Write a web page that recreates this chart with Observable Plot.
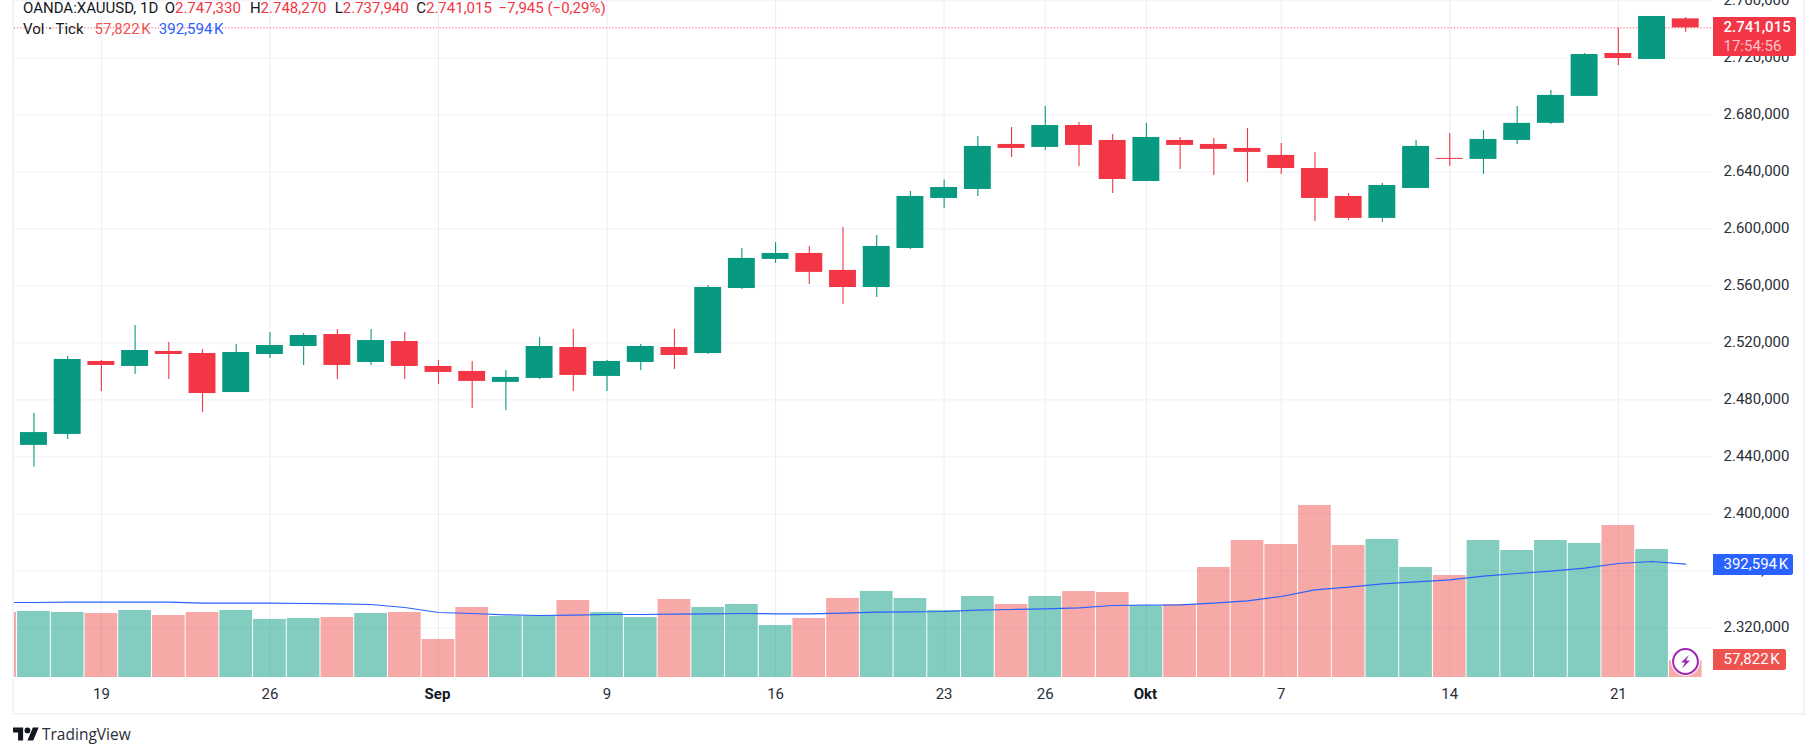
<!DOCTYPE html>
<html><head><meta charset="utf-8">
<script src="https://cdn.jsdelivr.net/npm/d3@7"></script>
<script src="https://cdn.jsdelivr.net/npm/@observablehq/plot@0.6"></script>
<style>
html,body{margin:0;padding:0;background:#fff;overflow:hidden}
#stage{position:relative;width:1815px;height:756px;font-family:Roboto,sans-serif;color:#131722;overflow:hidden}
#stage > div.layer svg{position:absolute;left:0;top:0;background:transparent}
.layer{position:absolute;left:0;top:0;width:1815px;height:756px}
#frame{position:absolute;left:12px;top:-2px;width:1789px;height:713px;border:2px solid #f0f3fa}
.abs{position:absolute;white-space:pre;line-height:18px;font-size:15px}
.tag{position:absolute;left:1713px;border-radius:0 2px 2px 0;color:#fff;font-size:15px;box-sizing:border-box;padding-left:10.5px;white-space:pre;word-spacing:-2px}
.r{color:#f23645}
</style></head>
<body>
<div id="stage">
  <div id="frame"></div>
  <div class="layer" id="priceLayer"></div>
  <div class="layer" id="volumeLayer"></div>
  <div class="abs" style="left:23px;top:-1px"><span>OANDA:XAUUSD, 1D</span><span style="margin-left:6.4px">O</span><span class="r">2.747,330</span><span style="margin-left:9px">H</span><span class="r">2.748,270</span><span style="margin-left:8.2px">L</span><span class="r">2.737,940</span><span style="margin-left:7.5px">C</span><span class="r">2.741,015</span><span class="r" style="margin-left:6.6px">−7,945 (−0,29%)</span></div>
  <div class="abs" style="left:23px;top:20px"><span>Vol · Tick</span><span style="color:#f05350;margin-left:11px;word-spacing:-2px">57,822 K</span><span style="color:#2962ff;margin-left:8px;word-spacing:-2px">392,594 K</span></div>
  <div class="tag" style="top:17px;width:83px;height:39px;background:#f23645;line-height:19px;padding-top:1px;"><div style="font-weight:500">2.741,015</div><div style="color:#fbc2c7">17:54:56</div></div>
  <div class="tag" style="top:554px;width:80px;height:21px;background:#2962ff;line-height:21px">392,594 K</div>
  <div class="tag" style="top:649px;width:73px;height:21px;background:#ef5350;line-height:21px">57,822 K</div>
  <svg style="position:absolute;left:1670px;top:646px" width="31" height="31" viewBox="0 0 31 31">
    <circle cx="15.5" cy="15.5" r="14.5" fill="#fff"/>
    <circle cx="15.5" cy="15.5" r="12.4" fill="#fff" stroke="#9c27b0" stroke-width="2"/>
    <path d="M19 9 L11 16.5 H15 L12 22.5 L20 14.5 H16 Z" fill="#9c27b0"/>
  </svg>
  <svg style="position:absolute;left:12.5px;top:727px" width="26" height="14" viewBox="0 4 36 18">
    <path d="M14 22H7V11H0V4h14v18z" fill="#131722"/><circle cx="20" cy="8" r="4" fill="#131722"/><path d="M28 22h-8l7.5-18h8z" fill="#131722"/>
  </svg>
  <div class="abs" style="left:42px;top:725px;font-family:'Open Sans',sans-serif;font-size:15.5px;color:#2a2e39">TradingView</div>
</div>
<script>
const dates = ["2024-08-14","2024-08-15","2024-08-16","2024-08-19","2024-08-20","2024-08-21","2024-08-22","2024-08-23","2024-08-26","2024-08-27","2024-08-28","2024-08-29","2024-08-30","2024-09-02","2024-09-03","2024-09-04","2024-09-05","2024-09-06","2024-09-09","2024-09-10","2024-09-11","2024-09-12","2024-09-13","2024-09-16","2024-09-17","2024-09-18","2024-09-19","2024-09-20","2024-09-23","2024-09-24","2024-09-25","2024-09-26","2024-09-27","2024-09-30","2024-10-01","2024-10-02","2024-10-03","2024-10-04","2024-10-07","2024-10-08","2024-10-09","2024-10-10","2024-10-11","2024-10-14","2024-10-15","2024-10-16","2024-10-17","2024-10-18","2024-10-21","2024-10-22","2024-10-23"];
const candleDates = dates.slice(1);
const opens  = [2448,2455.7,2506.9,2503.4,2513.9,2512.5,2485.1,2511.8,2517.4,2525.8,2506.2,2520.9,2503.4,2499.9,2492.2,2495,2516.7,2496.4,2506.2,2516.7,2512.5,2558.1,2578.5,2582.7,2570.8,2558.8,2586.2,2621.3,2627.6,2659.2,2657.1,2672.5,2662,2633.2,2662,2659.2,2656.4,2651.5,2642.3,2622.7,2607.3,2628.3,2649.4,2648.7,2662,2674,2692.9,2723,2718.8,2747.33];
const highs  = [2470.4,2510.4,2507.6,2532.2,2520.2,2515.3,2518.8,2527.2,2526.6,2529.3,2529.3,2527.2,2507.6,2506.9,2500.6,2523.7,2529.3,2507.6,2518.8,2529.4,2560.2,2586.2,2590.4,2587.6,2600.9,2595.3,2626.2,2634.3,2664.8,2671.1,2685.8,2674.6,2666.2,2673.9,2664.1,2663.4,2670.4,2659.9,2653.6,2624.8,2631.8,2662,2666.9,2669,2685.9,2697.1,2723,2741,2749,2748.27];
const lows   = [2432.8,2452.1,2485.8,2497.8,2494.3,2471.1,2485.1,2509,2504.1,2494.3,2504.1,2494.3,2490.8,2473.9,2472.5,2494.3,2485.8,2485.8,2500.6,2501.3,2511.8,2557.4,2575.7,2561,2546.9,2551.8,2585.5,2614.3,2622.7,2650.1,2655,2643.7,2624.8,2633.2,2641.6,2637.4,2632.5,2638.1,2605.2,2605.9,2604.5,2628.3,2643.7,2638.1,2659.2,2673.2,2692.9,2714.6,2718.8,2737.94];
const closes = [2457,2508.3,2504.1,2514.6,2511.8,2484.4,2513.2,2518.1,2525.1,2504.1,2521.6,2503.4,2499.2,2492.9,2495.7,2517.4,2497.1,2506.9,2517.4,2511.1,2558.8,2579.2,2582.7,2569.4,2558.8,2587.6,2622.7,2629,2657.8,2656.4,2672.5,2658.5,2634.6,2664.1,2658.5,2655.7,2653.6,2642.3,2621.3,2607.3,2630.4,2657.8,2648.7,2662.7,2674,2693.6,2722.3,2719.5,2749,2741.015];
const volumes = [224.9,228.4,224.9,221.5,231.8,214.5,224.9,231.8,200.7,204.2,207.6,221.5,224.9,131.5,242.2,211.1,211.1,266.4,224.9,207.6,269.9,242.2,252.6,179.9,204.2,273.4,297.6,273.4,231.8,280.3,252.6,280.3,297.6,294.1,245.7,252.6,380.6,474,460.2,595.2,456.7,477.5,380.6,352.9,474,439.4,474,463.7,526,442.9,57.822];
const volumeMA = [259.5,259.5,260.7,260.7,260.7,260.7,257.2,257.2,257.2,256.1,254.9,252.6,242.2,224.9,221.5,216.8,214.5,215.7,218,218,219.1,220.3,221.5,220.3,220.3,222.6,226.1,227.2,228.4,233,235.3,237.6,241.1,249.1,250.3,251.4,257.2,265.3,280.3,303.3,312.6,324.1,331,337.9,350.6,359.9,367.9,378.3,394.5,401.4,392.594];
const firstVolumeRising = false;
const priceTicks = [2760,2720,2680,2640,2600,2560,2520,2480,2440,2400,2360,2320];
const dayTicks = ["2024-08-19","2024-08-26","2024-09-09","2024-09-16","2024-09-23","2024-09-26","2024-10-07","2024-10-14","2024-10-21"];
const dayLabels = ["19","26","9","16","23","26","7","14","21"];
const monthTicks = ["2024-09-02","2024-10-01"];
const monthLabels = ["Sep","Okt"];
const lastPrice = 2741.015;

const UP = "#089981", DOWN = "#f23645", VOL_UP = "#089981", VOL_DOWN = "#ef5350";
const candles = candleDates.map((date,i)=>({date,open:opens[i],high:highs[i],low:lows[i],close:closes[i],up:closes[i]>=opens[i]}));
const vols = dates.map((date,i)=>({date,volume:volumes[i],ma:volumeMA[i],up:i===0?firstVolumeRising:candles[i-1].up}));

const xScale = {type:"band",domain:dates,range:[-17.1,1702.1],padding:0,round:false};
const W=1815,H=756,ML=14,MR=103,MB=79;
const allTicks=[...dayTicks,...monthTicks];
const priceLabel = d=>{const s=d3.format(".3f")(d).replace(".",",");return s.slice(0,1)+"."+s.slice(1)};
const dayLabel = d=>dayLabels[dayTicks.indexOf(d)];
const monthLabel = d=>monthLabels[monthTicks.indexOf(d)];
const fontStyle={fontFamily:"Roboto,sans-serif",background:"transparent",overflow:"hidden"};

const price = Plot.plot({
  width:W,height:H,marginLeft:ML,marginRight:MR,marginTop:0,marginBottom:MB,style:fontStyle,
  x:xScale,
  y:{type:"linear",domain:[2320,2760],range:[627.3,0.3]},
  marks:[
    Plot.ruleY(priceTicks,{stroke:"#f0f3fa",strokeWidth:1.3}),
    Plot.ruleX(allTicks,{stroke:"#ecedf2",strokeWidth:1}),
    Plot.axisY({anchor:"right",ticks:priceTicks,tickSize:0,tickPadding:11,tickFormat:priceLabel,label:null,fontSize:15,color:"#2a2e39",textAnchor:"start",dy:-1}),
    Plot.axisX({ticks:dayTicks,tickSize:0,tickPadding:11,tickFormat:dayLabel,label:null,fontSize:15,color:"#2a2e39"}),
    Plot.axisX({ticks:monthTicks,tickSize:0,tickPadding:11,tickFormat:monthLabel,label:null,fontSize:15,fontWeight:"bold",color:"#131722",dx:-1}),
    Plot.ruleY([lastPrice],{stroke:DOWN,strokeWidth:1,strokeDasharray:"1 2.2"}),
    Plot.ruleX(candles,{x:"date",y1:"low",y2:"high",stroke:d=>d.up?UP:DOWN,strokeWidth:1.1}),
    Plot.barY(candles,{x:"date",y1:"open",y2:"close",fill:d=>d.up?UP:DOWN,insetLeft:3.4,insetRight:3.4})
  ]
});
document.getElementById("priceLayer").appendChild(price);

const volume = Plot.plot({
  width:W,height:H,marginLeft:ML,marginRight:MR,marginTop:0,marginBottom:MB,style:fontStyle,
  x:{...xScale,axis:null},
  y:{type:"linear",domain:[0,600],range:[677,503.6],axis:null},
  marks:[
    Plot.barY(vols,{x:"date",y:"volume",fill:d=>d.up?VOL_UP:VOL_DOWN,fillOpacity:0.5,insetLeft:0.5,insetRight:0.5,clip:true}),
    Plot.line(vols,{x:"date",y:"ma",stroke:"#2962ff",strokeWidth:1.2,clip:true})
  ]
});
document.getElementById("volumeLayer").appendChild(volume);
</script>
</body></html>
